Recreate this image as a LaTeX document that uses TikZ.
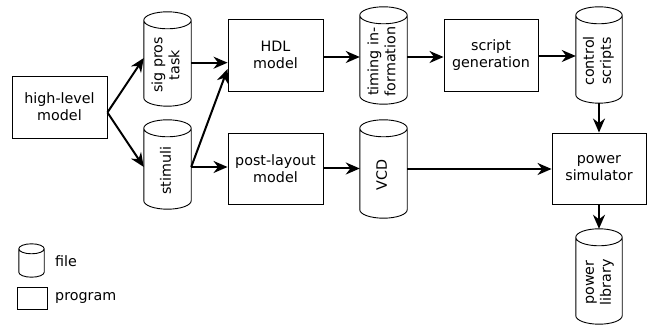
\documentclass[tikz,border=0pt]{standalone}
\usepackage{fontspec}
\setmainfont{DejaVu Sans}
\usetikzlibrary{arrows.meta,calc}
\newcommand\drawcyl[2]{%
  \draw[cylline] let \p1=(#1.north west), \p2=(#1.south east), \n1={(\x2-\x1)/2} in
    ($(#1.north)+(0,-#2)$) ellipse[x radius=\n1, y radius=#2]
    (\x1,\y1-#2) -- (\x1,\y2+#2) arc[start angle=180,end angle=360,x radius=\n1,y radius=#2] -- (\x2,\y1-#2);
}
\newcommand\rt[1]{\rotatebox{90}{\begin{tabular}{@{}c@{}}#1\end{tabular}\hspace*{12pt}}}
\begin{document}
\begin{tikzpicture}[x=1pt,y=1pt,
  every node/.style={font=\fontsize{14.3}{17}\selectfont, inner sep=0pt},
  prog/.style={draw=black, line width=0.9pt, align=center},
  filenode/.style={align=center},
  cylline/.style={draw=black, line width=0.9pt},
  conn/.style={line width=2pt, -{Stealth[length=14pt,width=12pt,inset=4.5pt]}},
  legendtext/.style={anchor=west}]
\useasboundingbox (0,0) rectangle (648,326);
% programs
\node[prog, minimum width=95pt, minimum height=62pt] (hl) at (59.5,219) {high-level\\model};
\node[prog, minimum width=95pt, minimum height=72pt] (HDL) at (275.5,271) {HDL\\model};
\node[prog, minimum width=95pt, minimum height=71pt] (post) at (275.5,157.5) {post-layout\\model};
\node[prog, minimum width=94pt, minimum height=72pt] (script) at (491,271) {script\\generation};
\node[prog, minimum width=94pt, minimum height=71pt] (psim) at (599,157.5) {power\\simulator};
% files
\node[filenode, minimum width=47pt, minimum height=94pt] (sig) at (167.5,267) {\rt{sig pros\\task}};
\node[filenode, minimum width=47pt, minimum height=89pt] (stim) at (167.5,161.5) {\rt{stimuli}};
\node[filenode, minimum width=47pt, minimum height=97pt] (timing) at (383.5,270.5) {\rt{timing in-\\formation}};
\node[filenode, minimum width=46pt, minimum height=96pt] (control) at (599,271) {\rt{control\\scripts}};
\node[filenode, minimum width=47pt, minimum height=98pt] (vcd) at (383.5,157) {\rt{VCD}};
\node[filenode, minimum width=46pt, minimum height=95pt] (plib) at (599,49.5) {\rt{power\\library}};
\drawcyl{sig}{8.5pt}
\drawcyl{stim}{8.5pt}
\drawcyl{timing}{8.5pt}
\drawcyl{control}{8.5pt}
\drawcyl{vcd}{8.5pt}
\drawcyl{plib}{8.5pt}
% legend
\node[filenode, minimum width=25pt, minimum height=33pt] (lfile) at (31.5,65.5) {};
\drawcyl{lfile}{5pt}
\node[prog, minimum width=30pt, minimum height=22pt] (lprog) at (32,28) {};
\node[legendtext] (tfile) at (55,65) {file};
\node[legendtext] (tprog) at (55,28) {program};
% connectors
\coordinate (hlout) at ($(hl.east)+(0,-5.5)$);
\draw[conn] (hlout) -- ($(sig.west)+(0,1)$);
\draw[conn] (hlout) -- ($(stim.west)+(0,-2.5)$);
\draw[conn] ($(sig.east)+(0,-3.7)$) -- ($(HDL.west)+(0,-7.7)$);
\draw[conn] ($(stim.east)+(0,-2.5)$) -- ($(HDL.west)+(0,-14)$);
\draw[conn] ($(stim.east)+(0,-2.5)$) -- ($(post.west)+(0,1.5)$);
\draw[conn] ($(HDL.east)+(0,-2)$) -- ($(timing.west)+(0,-1.5)$);
\draw[conn] ($(timing.east)+(0,-1.5)$) -- ($(script.west)+(0,-2)$);
\draw[conn] ($(script.east)+(0,-1)$) -- ($(control.west)+(0,-1)$);
\draw[conn] (control.south) -- (psim.north);
\draw[conn] (post.east) -- (post.east -| vcd.west);
\draw[conn] (vcd.east) -- (vcd.east -| psim.west);
\draw[conn] (psim.south) -- (plib.north);
\end{tikzpicture}
\end{document}
